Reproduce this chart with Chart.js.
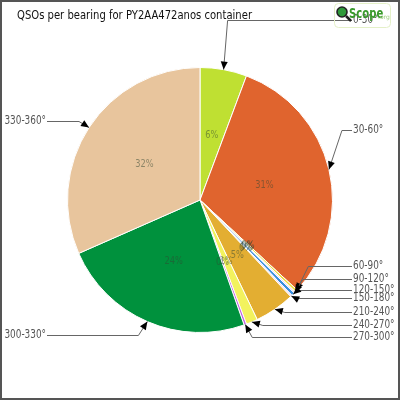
<!DOCTYPE html>
<html>
<head>
<meta charset="utf-8">
<script src="https://cdn.jsdelivr.net/npm/chart.js@4.4.1/dist/chart.umd.min.js"></script>
<style>
  html, body { margin: 0; padding: 0; background: #fff; }
  #wrap { width: 400px; height: 400px; }
</style>
</head>
<body>
<div id="wrap"><canvas id="chart" width="400" height="400"></canvas></div>
<script>
// bearings (180-210 has no QSOs, so it is left out)
const bearings = ['0-30°', '30-60°', '60-90°', '90-120°', '120-150°', '150-180°',
  '210-240°', '240-270°', '270-300°', '300-330°', '330-360°'];
// share of QSOs per bearing, in percent
const shares = [5.7, 31.2, 0.3, 0.2, 0.4, 0.2, 4.9, 1.4, 0.3, 23.8, 31.6];
const sliceColors = ['#bfe032', '#e0642e', '#eedc3c', '#f6dcea', '#3a8fe0', '#f0d4f2',
  '#e3ae32', '#f2f25e', '#c464e4', '#00913d', '#e8c59d'];

const titleText = 'QSOs per bearing for PY2AA472anos container';
const FONT = '"DejaVu Sans", sans-serif';

// callout layout: side, text baseline y, x of the bend point relative to arrow tip
const calloutSide = ['r', 'r', 'r', 'r', 'r', 'r', 'r', 'r', 'r', 'l', 'l'];
const calloutY = [20, 130, 266, 279, 290, 298, 312, 325, 337, 335, 121];
const calloutBend = [4, 13, 12, 8, 5, 4, 10, 11, 7, -9, -10];

const arrow = (ctx, fx, fy, tx, ty) => {
  const a = Math.atan2(ty - fy, tx - fx), L = 8, W = 3.5;
  ctx.beginPath();
  ctx.moveTo(tx, ty);
  ctx.lineTo(tx - L * Math.cos(a) + W * Math.sin(a), ty - L * Math.sin(a) - W * Math.cos(a));
  ctx.lineTo(tx - L * Math.cos(a) - W * Math.sin(a), ty - L * Math.sin(a) + W * Math.cos(a));
  ctx.closePath();
  ctx.fill();
};

// draw text squeezed horizontally (the original uses a narrow light font)
const narrowText = (ctx, text, x, y, sx, align) => {
  const w = ctx.measureText(text).width * sx;
  const left = align === 'right' ? x - w : align === 'center' ? x - w / 2 : x;
  ctx.save();
  ctx.textAlign = 'left';
  ctx.translate(left, y);
  ctx.scale(sx, 1);
  ctx.fillText(text, 0, 0);
  ctx.restore();
};

const decor = {
  id: 'decor',
  beforeDraw(chart) {
    const ctx = chart.ctx;
    ctx.save();
    ctx.fillStyle = '#fff';
    ctx.fillRect(0, 0, chart.width, chart.height);
    ctx.restore();
  },
  afterDraw(chart) {
    const ctx = chart.ctx;
    const arcs = chart.getDatasetMeta(0).data;
    const total = shares.reduce((s, v) => s + v, 0);
    ctx.save();

    // percent labels in the slices
    ctx.font = '11px ' + FONT;
    ctx.textBaseline = 'middle';
    ctx.fillStyle = 'rgba(50,70,50,0.5)';
    arcs.forEach((arc, i) => {
      const p = arc.tooltipPosition();
      narrowText(ctx, Math.round(shares[i] / total * 100) + '%', p.x, p.y, 0.75, 'center');
    });

    // callouts
    ctx.font = '12px ' + FONT;
    ctx.textBaseline = 'middle';
    arcs.forEach((arc, i) => {
      const { x, y, startAngle, endAngle, outerRadius } = arc.getProps(['x', 'y', 'startAngle', 'endAngle', 'outerRadius'], true);
      const mid = (startAngle + endAngle) / 2;
      const tx = x + Math.cos(mid) * outerRadius, ty = y + Math.sin(mid) * outerRadius;
      const ly = calloutY[i];
      const bx = tx + calloutBend[i];
      const right = calloutSide[i] === 'r';
      const lx = right ? 352 : 47;
      ctx.strokeStyle = '#666';
      ctx.lineWidth = 1;
      ctx.beginPath();
      ctx.moveTo(lx, ly + 0.5);
      ctx.lineTo(bx, ly + 0.5);
      ctx.lineTo(tx, ty);
      ctx.stroke();
      ctx.fillStyle = '#000';
      arrow(ctx, bx, ly, tx, ty);
      ctx.fillStyle = '#555';
      narrowText(ctx, bearings[i], right ? 353 : 46, ly, 0.74, right ? 'left' : 'right');
    });

    // title
    ctx.fillStyle = '#111';
    ctx.font = '13px ' + FONT;
    ctx.textBaseline = 'middle';
    const tw = ctx.measureText(titleText).width;
    narrowText(ctx, titleText, 17, 16, 235 / tw, 'left');

    // logo
    ctx.strokeStyle = '#e4f0c8';
    ctx.lineWidth = 1;
    ctx.beginPath();
    ctx.roundRect(334.5, 3.5, 56, 24, 4);
    ctx.stroke();
    ctx.fillStyle = '#2f9a3a';
    ctx.beginPath();
    ctx.arc(342, 12, 5, 0, Math.PI * 2);
    ctx.fill();
    ctx.strokeStyle = '#222';
    ctx.lineWidth = 1.6;
    ctx.stroke();
    ctx.lineWidth = 2.5;
    ctx.beginPath();
    ctx.moveTo(346, 16);
    ctx.lineTo(351, 21);
    ctx.stroke();
    ctx.fillStyle = '#3a9a2c';
    ctx.font = 'bold 14px ' + FONT;
    ctx.textBaseline = 'alphabetic';
    narrowText(ctx, 'Scope', 349, 18, 0.72, 'left');
    ctx.fillStyle = '#9fd080';
    ctx.font = '6px ' + FONT;
    ctx.fillText('.org', 378, 19);

    // frame
    ctx.strokeStyle = '#555';
    ctx.lineWidth = 2;
    ctx.strokeRect(1, 1, chart.width - 2, chart.height - 2);
    ctx.restore();
  }
};

new Chart(document.getElementById('chart'), {
  type: 'pie',
  data: {
    labels: bearings,
    datasets: [{
      data: shares,
      backgroundColor: sliceColors,
      borderColor: '#ffffff',
      borderWidth: 1
    }]
  },
  options: {
    responsive: false,
    animation: false,
    layout: { padding: 67 },
    plugins: {
      legend: { display: false },
      tooltip: { enabled: false },
      title: { display: false }
    }
  },
  plugins: [decor]
});
</script>
</body>
</html>
